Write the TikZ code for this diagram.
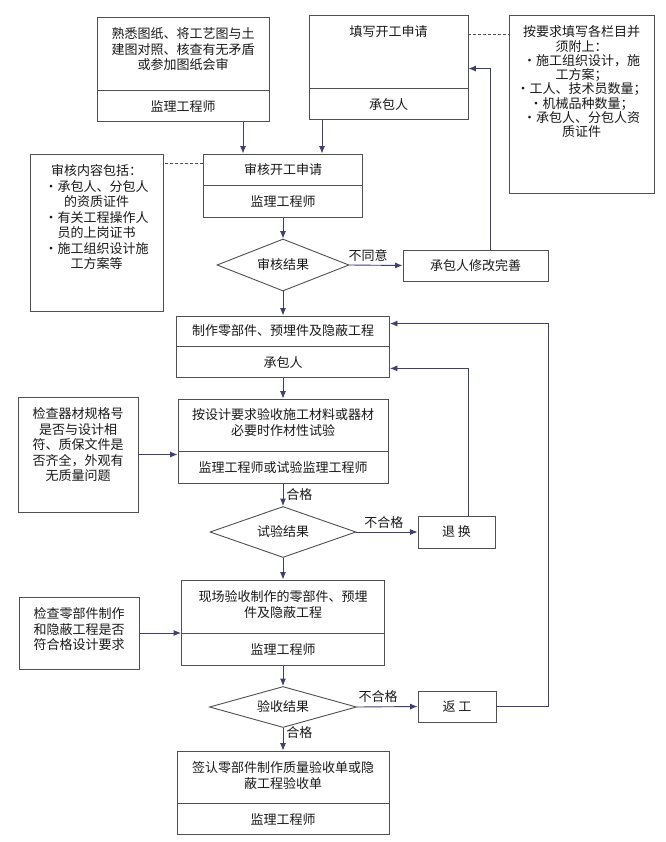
\documentclass[tikz,border=0pt]{standalone}
\usepackage{fontspec}
\setmainfont{Noto Sans CJK SC}
\usepackage{tikz}
\usetikzlibrary{arrows.meta,positioning,shapes.geometric}
\definecolor{edge}{RGB}{80,80,80}
\definecolor{flowc}{RGB}{62,62,112}
\definecolor{ink}{RGB}{25,25,25}

\tikzset{
  part/.style={draw=edge, line width=0.9pt, inner sep=0pt, minimum height=31pt},
  txt/.style={align=center, inner sep=0pt},
  decide/.style={diamond, draw=edge, line width=0.9pt, inner sep=0pt, aspect=2.5},
  flow/.style={draw=flowc, line width=0.9pt, ->},
  link/.style={draw=edge, line width=0.7pt, dash pattern=on 3pt off 2pt},
  divider/.style={draw=edge, line width=1.8pt},
}

\begin{document}
\begin{tikzpicture}[x=1pt, y=-1pt, >={Latex[length=7.5pt,width=6pt]},
    font=\fontsize{13pt}{15.5pt}\selectfont, text=ink]
    \fill[white] (0,0) rectangle (665,842);
    \useasboundingbox (0,0) rectangle (665,842);

    % Top row
    \node[part, minimum width=172pt, minimum height=73pt] (tuzhi) at (183,53.5) {};
    \node[txt, below=11pt of tuzhi.north] (tuzhi-t) {熟悉图纸、将工艺图与土\\建图对照、核查有无矛盾\\或参加图纸会审};
    \node[part, minimum width=172pt, below=0pt of tuzhi] (tuzhi-r) {监理工程师};

    \node[part, minimum width=159pt, minimum height=73pt] (tianxie) at (388.5,51.5) {};
    \node[txt, below=11pt of tianxie.north] (tianxie-t) {填写开工申请};
    \node[part, minimum width=159pt, below=0pt of tianxie] (tianxie-r) {承包人};

    \node[part, minimum width=145pt, minimum height=178pt] (fujian) at (581.5,104) {};
    \node[txt, font=\fontsize{13pt}{14.3pt}\selectfont, below=11pt of fujian.north] (fujian-t)
        {按要求填写各栏目并\\须附上：\\·施工组织设计，施\\工方案；\\·工人、技术员数量；\\·机械品种数量；\\·承包人、分包人资\\质证件};

    % Review of the application
    \node[part, minimum width=159pt] (shenhe) at (283,169.5) {审核开工申请};
    \node[part, minimum width=159pt, minimum height=32pt, below=0pt of shenhe] (shenhe-r) {监理工程师};
    \draw[divider] (shenhe.south west) -- (shenhe.south east);

    \node[part, minimum width=133pt, minimum height=157pt] (neirong) at (96.5,232.5) {};
    \node[txt, below=11pt of neirong.north] (neirong-t)
        {审核内容包括：\\·承包人、分包人\\的资质证件\\·有关工程操作人\\员的上岗证书\\·施工组织设计施\\工方案等};

    \node[decide, minimum width=132pt, minimum height=52pt] (jieguo1) at (283,265) {审核结果};
    \node[part, minimum width=145pt] (xiugai) at (475.5,265.5) {承包人修改完善};

    % Manufacture
    \node[part, minimum width=213pt, minimum height=30pt] (zhizuo) at (283,331) {制作零部件、预埋件及隐蔽工程};
    \node[part, minimum width=213pt, below=0pt of zhizuo] (zhizuo-r) {承包人};

    \node[part, minimum width=210pt, minimum height=52pt] (yanshou) at (283,425) {};
    \node[txt, below=10pt of yanshou.north] (yanshou-t) {按设计要求验收施工材料或器材\\必要时作材性试验};
    \node[part, minimum width=210pt, minimum height=32pt, below=0pt of yanshou] (yanshou-r) {监理工程师或试验监理工程师};

    \node[part, minimum width=120pt, minimum height=115pt] (qicai) at (78,454.5) {};
    \node[txt, below=11pt of qicai.north] (qicai-t) {检查器材规格号\\是否与设计相\\符、质保文件是\\否齐全，外观有\\无质量问题};

    \node[decide, minimum width=146pt, minimum height=51pt] (jieguo2) at (283,532) {试验结果};
    \node[part, minimum width=77pt, minimum height=32pt] (tuihuan) at (456.5,532) {退\ 换};

    % Site acceptance
    \node[part, minimum width=203pt, minimum height=53pt] (xianchang) at (283,606.5) {};
    \node[txt, below=11pt of xianchang.north] (xianchang-t) {现场验收制作的零部件、预埋\\件及隐蔽工程};
    \node[part, minimum width=203pt, minimum height=32pt, below=0pt of xianchang] (xianchang-r) {监理工程师};
    \draw[divider] (xianchang.south west) -- (xianchang.south east);

    \node[part, minimum width=120pt, minimum height=72pt] (lingbu) at (79,633) {};
    \node[txt, below=11pt of lingbu.north] (lingbu-t) {检查零部件制作\\和隐蔽工程是否\\符合格设计要求};

    \node[decide, minimum width=147pt, minimum height=41pt] (jieguo3) at (283,707) {验收结果};
    \node[part, minimum width=78pt] (fangong) at (457,706.5) {返\ 工};

    \node[part, minimum width=212pt, minimum height=52pt] (qianren) at (283,777) {};
    \node[txt, below=11pt of qianren.north] (qianren-t) {签认零部件制作质量验收单或隐\\蔽工程验收单};
    \node[part, minimum width=212pt, below=0pt of qianren] (qianren-r) {监理工程师};

    % Dashed notes
    \draw[link] ([yshift=-20pt]tianxie.north east) coordinate (tx-d) -- (tx-d -| fujian.west);
    \draw[link] ([yshift=-10pt]shenhe.north west) coordinate (sh-d) -- (sh-d -| neirong.east);

    % Flow
    \coordinate (tz-out) at ([xshift=60pt]tuzhi-r.south);
    \coordinate (tx-out) at ([xshift=-66.5pt]tianxie-r.south);
    \draw[flow] (tz-out) -- (tz-out |- shenhe.north);
    \draw[flow] (tx-out) -- (tx-out |- shenhe.north);
    \draw[flow] (shenhe-r.south) -- (jieguo1.north);
    \draw[flow] (jieguo1.east) -- node[above, pos=0.35] (l-butongyi) {不同意} (xiugai.west);
    \coordinate (xg-out) at ([xshift=14.5pt]xiugai.north);
    \draw[flow] (xg-out) |- ([yshift=-54pt]tianxie.north east);
    \draw[flow] (jieguo1.south) -- (zhizuo.north);

    \draw[flow] (zhizuo-r.south) -- (yanshou.north);
    \draw[flow] (qicai.east) -- (qicai.east -| yanshou.west);
    \draw[flow] (yanshou-r.south) -- node[right, pos=0.45, inner sep=3pt] (l-hege1) {合格} (jieguo2.north);
    \draw[flow] (jieguo2.east) -- node[above, pos=0.45] (l-buhege1) {不合格} (tuihuan.west);
    \coordinate (th-out) at ([xshift=11.5pt]tuihuan.north);
    \draw[flow] (th-out) |- ([yshift=10pt]zhizuo-r.south east);
    \draw[flow] (jieguo2.south) -- (xianchang.north);

    \draw[flow] (lingbu.east) -- (lingbu.east -| xianchang.west);
    \draw[flow] (xianchang-r.south) -- (jieguo3.north);
    \draw[flow] (jieguo3.east) -- node[above, pos=0.35] (l-buhege2) {不合格} (fangong.west);
    \draw[flow] (fangong.east) -- ++(52,0) |- ([yshift=-8pt]zhizuo.north east);
    \draw[flow] (jieguo3.south) -- node[right, pos=0.2, inner sep=3pt] (l-hege2) {合格} (qianren.north);
\end{tikzpicture}
\end{document}
